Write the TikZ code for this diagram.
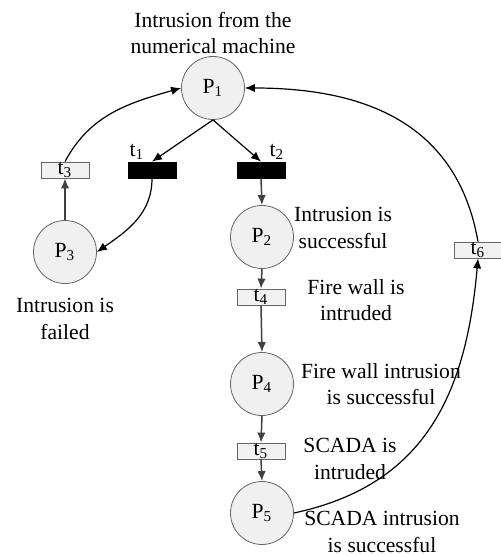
\documentclass[tikz,border=0pt]{standalone}
\usepackage{fontspec}
\setmainfont{Liberation Serif}
\usepackage{tikz}
\usetikzlibrary{arrows.meta}

\begin{document}
\begin{tikzpicture}[x=0.5pt, y=0.5pt, >={Latex[length=5pt,width=4.2pt]},
    font=\fontsize{10.8}{13.3}\selectfont, text=black,
    place/.style={draw=black!60, circle, fill=black!6, minimum size=31.5pt,
      inner sep=0pt},
    fired/.style={draw=black, fill=black, minimum width=24pt,
      minimum height=8pt, inner sep=0pt},
    trans/.style={draw=black!60, fill=black!5, minimum width=24pt,
      minimum height=8pt, inner sep=0pt},
    note/.style={align=center, inner sep=0pt},
    flow/.style={->, color=black!75, line width=0.75pt},
    arc/.style={->, color=black, line width=0.6pt}]
\useasboundingbox (-213,88) rectangle (287,-467);

\node (P1) [place] at (0,0) {P\textsubscript{1}};
\path (P1)+(0,55) node (machine) [note]
    {Intrusion from the\\numerical machine};

\path (P1)+(-61,-82) node (t1) [fired] {};
\path (P1)+(48,-82) node (t2) [fired] {};
\path (t1)+(-87,0) node (t3) [trans] {t\textsubscript{3}};
\path (t1)+(-15,18) node (lt1) [note] {t\textsubscript{1}};
\path (t2)+(16,18) node (lt2) [note] {t\textsubscript{2}};

\path (t3)+(0,-82) node (P3) [place] {P\textsubscript{3}};
\path (P3)+(0,-67) node (failed) [note] {Intrusion is\\failed};

\path (t2)+(1,-67) node (P2) [place] {P\textsubscript{2}};
\path (P2)+(81,9) node (success) [note] {Intrusion is\\successful};
\path (P2)+(-1,-60) node (t4) [trans] {t\textsubscript{4}};
\path (t4)+(95,-3) node (fire) [note] {Fire wall is\\intruded};
\path (t4)+(1,-87) node (P4) [place] {P\textsubscript{4}};
\path (P4)+(119,0) node (firesucc) [note]
    {Fire wall intrusion\\is successful};
\path (P4)+(-1,-67) node (t5) [trans] {t\textsubscript{5}};
\path (t5)+(89,-8) node (scada) [note] {SCADA is\\intruded};
\path (t5)+(1,-62) node (P5) [place] {P\textsubscript{5}};
\path (P5)+(120,-19) node (scadasucc) [note]
    {SCADA intrusion\\is successful};
\path (P2)+(216,-13) node (t6) [trans] {t\textsubscript{6}};

% arcs out of P1
\path[arc] (P1.south) edge (t1.north);
\path[arc] (P1.south) edge (t2.north);
\path[arc] (t1.south) edge [out=-90, in=35] (P3.east);
\path[arc] (t3.north) edge [out=62, in=196] (P1.west);
\path[flow] (P3.north) edge (t3.south);

% main chain
\path[flow] (t2.south) edge (P2.north);
\path[flow] (P2.south) edge (t4.north);
\path[flow] (t4.south) edge (P4.north);
\path[flow] (P4.south) edge (t5.north);
\path[flow] (t5.south) edge (P5.north);

% back to P1
\path[arc] (P5.east) edge [out=12, in=-95, looseness=1.1] (t6.south);
\path[arc] (t6.north) edge [out=100, in=0, looseness=1.1] (P1.east);

\end{tikzpicture}
\end{document}
